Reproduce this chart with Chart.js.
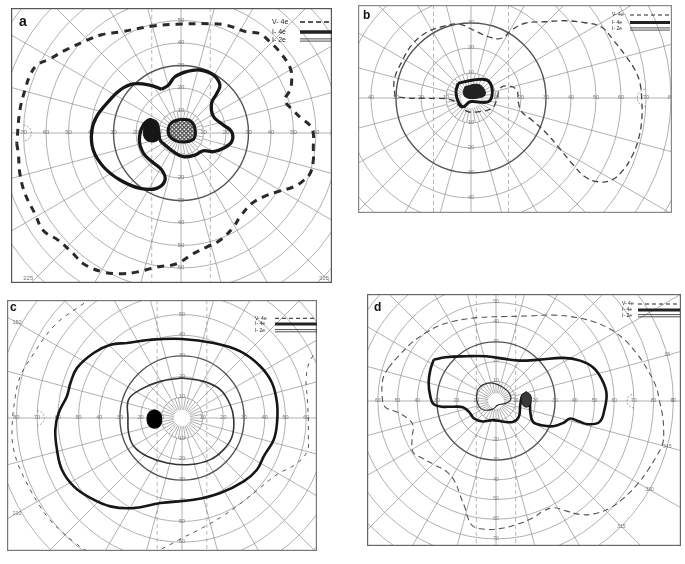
<!DOCTYPE html>
<html>
<head>
<meta charset="utf-8">
<script src="https://cdn.jsdelivr.net/npm/chart.js@4.4.0/dist/chart.umd.min.js"></script>
<style>
html, body { margin: 0; padding: 0; background: #fff; width: 685px; height: 564px; overflow: hidden; }
.panel { position: absolute; }
</style>
</head>
<body>
<div class="panel" id="boxA"><canvas id="chartA"></canvas></div>
<div class="panel" id="boxB"><canvas id="chartB"></canvas></div>
<div class="panel" id="boxC"><canvas id="chartC"></canvas></div>
<div class="panel" id="boxD"><canvas id="chartD"></canvas></div>
<script>
// Goldmann grid: rings and tick labels (degrees of eccentricity)
var ringDeg = [10, 20, 30, 40, 50, 60, 70, 80, 90];
var tickDeg = [10, 20, 30, 40, 50, 60, 70, 80, 90];
var legendLabels = ['V- 4e', 'I- 4e', 'I- 2e'];

// isopters as [x, y] in degrees (x right, y up)
// --- a ---
var aV4e = [[-73,-4.7],[-72.3,-9.2],[-71.6,-18.1],[-69.3,-27],[-64.9,-35.9],[-61.2,-43.3],[-54.5,-47.7],[-47.9,-53.6],[-43.4,-58.1],[-34.5,-61.8],[-25.6,-62.5],[-19.7,-61.8],[-10.8,-59.6],[-1.9,-58.1],[5.5,-53.6],[11.4,-50.7],[17.3,-47.7],[23.3,-41.8],[26.2,-37.3],[31.4,-31.4],[36.6,-28.4],[42.5,-26.2],[49.9,-24],[53.6,-21.8],[57.3,-18.1],[58.8,-12.1],[58.8,-6.2],[58.8,-0.3],[57.3,3.4],[53.6,6.4],[49.9,10.1],[46.2,14.5],[48.4,19],[49.2,23.4],[48.4,29.3],[43.3,36.7],[39.6,40.4],[35.1,44.1],[29.2,44.9],[20.3,47.9],[12.1,48.6],[-1.9,48.3],[-12.3,47.6],[-27.1,44.9],[-35.3,43.7],[-41.2,41.5],[-51.6,36.7],[-58.2,33],[-64.1,30.1],[-67.1,25.6],[-69.3,19.3],[-71.6,10.1]];
var aI4e = [[-8.6,19.4],[-5.6,21.3],[-2.7,25],[2.5,27.3],[8.4,28],[14.4,25.8],[17.3,21.3],[15.9,17.6],[13.6,13.2],[14.4,7.3],[18.8,3.6],[22.5,0.6],[22.5,-3.9],[18.8,-6.8],[14.4,-8.3],[9.9,-7.9],[6.2,-9.8],[1,-10.5],[-3.4,-8.3],[-7.1,-5.3],[-9.3,-3.1],[-10.1,1.3],[-13,5.8],[-16.7,3.6],[-18.5,-3.1],[-16.7,-9],[-13,-12.7],[-8.6,-16.4],[-7.1,-20.9],[-10.8,-24.6],[-18.2,-24.6],[-27.1,-20.9],[-34.5,-15],[-39,-7.6],[-39.7,0.6],[-37.5,7.3],[-31.6,14.7],[-27.1,19.1],[-21.2,21.8],[-13.8,21.3]];
var aI2e = [[-0.4,6.1],[4,5.5],[6.2,2.1],[5.8,-2.4],[2.5,-3.9],[-1.9,-3.6],[-5.2,-1.3],[-5.6,2.1],[-4.1,4.7]];
var aBlind = [[-13.5,6.3],[-10.5,5],[-9.6,1],[-10.2,-3],[-13,-4],[-16,-2.5],[-16.7,1.5],[-15.5,5]];
var aMeridians = [225, 315];
// --- b ---
var bV4e = [[-30.4,0.5],[-30.7,7.2],[-27.7,14.5],[-23.7,21.2],[-18.4,25.9],[-11.7,28.5],[-5.1,29.6],[0.9,27.2],[6.9,24.5],[12.3,23.9],[16.3,27.2],[21.6,29.9],[29.6,30.5],[37.6,30.9],[45.6,30.1],[52.3,28.3],[56.9,23.2],[61.6,17.2],[65.6,11.2],[67.6,5.9],[68.3,-0.8],[68.3,-8.8],[66.9,-16.8],[64.3,-23.5],[60.9,-28.8],[56.3,-32.8],[50.9,-33.5],[45.6,-31.5],[40.3,-26.1],[34.9,-19.5],[29.6,-13.5],[24.3,-8.8],[20.3,-5.5],[18.9,-1.5],[18.3,3.2],[14.9,4.8],[11.6,3.9],[10.3,-0.8],[8.3,-4.1],[2.9,-5.5],[-1.1,-5.5],[-4.4,-3.5],[-7.7,-0.8],[-17.1,-0.1],[-23.7,-0.1]];
var bI4e = [[-5.1,5.9],[0.9,7.2],[6.3,7.2],[8.3,4.5],[8.3,0.5],[6.9,-1.5],[3.6,-1.7],[-0.4,-1.5],[-3.1,-3.5],[-5.1,-1.5],[-6,2.5]];
var bI2e = [[-2.4,4.5],[2.3,5.5],[4.9,4.1],[5.6,1.2],[2.3,-0.1],[-1.7,0.1],[-3.1,1.9]];
var bMeridians = [];
// --- c ---
var cV4e = [[-40,60],[-50.7,53.1],[-62,44.3],[-72.5,29.8],[-78.1,20.1],[-80.5,10.5],[-82.1,-5.6],[-81.3,-15.3],[-78.1,-25],[-73.3,-34.6],[-69,-42],[-64,-49],[-58,-55],[-52,-60],[-46,-64],[-30,-68],[-12,-64],[0,-58],[10,-53],[21,-46.5],[30.6,-39.5],[37.8,-33.7],[46,-27.2],[54.8,-22.4],[60.5,-16],[61,-8],[61,0],[60.5,10],[60,19.5],[62,28],[70,40],[60,62],[35,70],[-10,68],[-28,63]];
var cI4e = [[-26.6,36.2],[-15.3,37.8],[0,38.2],[15.3,36.2],[28.2,32.2],[37.8,25],[43.5,16.9],[45.9,7.2],[45.9,-2.4],[44.3,-10.5],[39.5,-18.5],[36.2,-25],[29.8,-30.6],[18.5,-36.2],[5.6,-39.5],[-10.5,-41.1],[-23.3,-43.5],[-34.6,-42.7],[-44.3,-38.6],[-52.3,-33],[-58,-25],[-60.4,-15.3],[-61.2,-5.6],[-59.6,2.4],[-55.6,10.5],[-53.9,16.9],[-50.7,24.2],[-42.7,31.4],[-34.6,35.4]];
var cI2e = [[0,19.3],[10.5,17.7],[18.5,13.7],[23.3,6.4],[25,-0.8],[24.2,-8.9],[20.1,-15.3],[13.7,-20.1],[4,-22.5],[-7.2,-21.7],[-16.9,-18.5],[-23.3,-13.7],[-25.8,-7.2],[-26.1,0],[-25.8,8.9],[-20.1,13.7],[-10.5,17.7]];
var cBlind = [[-13.3,4],[-10.8,2.8],[-9.8,-0.4],[-10.6,-3.8],[-13.3,-4.9],[-15.9,-3.8],[-16.9,-0.4],[-15.9,2.8]];
var cMeridians = [150, 210];
// --- d ---
var dV4e = [[-54.7,16.8],[-49.6,22.7],[-42.7,29.6],[-35,35],[-29.1,38.1],[-20.5,40.7],[-8.5,42.4],[5.1,42.9],[17.1,43.2],[29.1,43.6],[41,42.4],[49.6,40.2],[58.1,36.4],[65,31.3],[71.8,23.6],[76.9,15.9],[81.2,7.4],[82.9,0.5],[84.6,-8],[85.1,-14.9],[84.6,-21.7],[81.2,-28.5],[76.9,-35.4],[71.8,-42.2],[65,-49.1],[58.1,-54.2],[49.6,-57.3],[42.7,-57.6],[35.9,-55.9],[29.1,-54.2],[23.9,-55.9],[18.8,-59.3],[10.3,-62.7],[1.7,-64.8],[-6.8,-65],[-11.7,-63.5],[-14.2,-59.4],[-15.7,-54.3],[-18.3,-47.7],[-20.8,-41.1],[-24.9,-36],[-31,-32.5],[-37.6,-28.9],[-42.1,-25.9],[-42.6,-18.8],[-42.1,-12.2],[-45.2,-8.6],[-50.3,-5.6],[-56.3,-3],[-57.8,3],[-57.3,11.6]];
var dI4e = [[-31.6,21],[-25.6,22.2],[-15.4,22.7],[-5.1,22.7],[3.4,21.5],[12,20.5],[22.2,21],[34.2,21.9],[42.7,20.5],[49.6,16.8],[53.8,10.8],[56.1,3.9],[55,-4.6],[52.6,-10.6],[47,-11.8],[41.9,-10.3],[37.6,-8.9],[34.2,-11.1],[29.1,-12.8],[23.1,-12.3],[18.8,-10.6],[17.4,-5.5],[17.1,0.5],[15.4,3.6],[13.3,2.6],[12.3,-2.1],[11.6,-8],[8.5,-10.6],[3.4,-10.4],[-1.7,-9.7],[-6.8,-10.4],[-11.1,-8.9],[-13.7,-5.5],[-16.8,-3.2],[-22.2,-2.9],[-27.4,-2.9],[-31.6,-1.7],[-33.3,2.2],[-34.2,9.1],[-33.3,15.9]];
var dI2e = [[-9.4,5.6],[-6.8,8.2],[-1.7,9.1],[3.4,7],[6.8,3.9],[7.4,0.5],[4.8,-1.2],[0.9,-2.1],[-1.7,-4.1],[-6,-4.6],[-8.5,-2.9],[-9.9,1.4]];
var dBlind = [[15.4,4.8],[17.5,3],[17.9,0],[16.8,-2.6],[14.5,-2.9],[12.9,-0.5],[13,2.8]];
var dMeridians = [15, 0, 345, 330, 315];

function loop(arr) {
    var pts = arr.map(function (p) { return {x: p[0], y: p[1]}; });
    pts.push({x: arr[0][0], y: arr[0][1]});
    return pts;
}
function isopter(arr, style) {
    return Object.assign({data: loop(arr), showLine: true, pointRadius: 0, tension: 0.4, fill: false}, style);
}
function hatchPattern() {
    var c = document.createElement('canvas');
    c.width = 4; c.height = 4;
    var g = c.getContext('2d');
    g.fillStyle = '#5a5a5a'; g.fillRect(0, 0, 4, 4);
    g.fillStyle = '#f2f2f2';
    g.fillRect(0.5, 0.5, 1.6, 1.6); g.fillRect(2.5, 2.5, 1.4, 1.4);
    return g.createPattern(c, 'repeat');
}

// grid, labels, legend and frame
var perimetryGrid = {
    id: 'perimetryGrid',
    beforeDatasetsDraw: function (chart, args, o) {
        var ctx = chart.ctx, a = chart.chartArea, xs = chart.scales.x, ys = chart.scales.y;
        var cx = xs.getPixelForValue(0), cy = ys.getPixelForValue(0);
        var kx = (xs.getPixelForValue(10) - cx) / 10, ky = (cy - ys.getPixelForValue(10)) / 10;
        ctx.save();
        ctx.beginPath(); ctx.rect(a.left, a.top, a.right - a.left, a.bottom - a.top); ctx.clip();

        // dashed vertical guides
        ctx.setLineDash([4, 3]); ctx.strokeStyle = '#9a9a9a'; ctx.lineWidth = 0.7;
        [-o.dashX, o.dashX].forEach(function (d) {
            ctx.beginPath(); ctx.moveTo(cx + d * kx, a.top); ctx.lineTo(cx + d * kx, a.bottom); ctx.stroke();
        });
        ctx.setLineDash([]);

        // meridians every 15 deg, dense ticks in the centre
        ctx.strokeStyle = '#8f8f8f'; ctx.lineWidth = 0.7;
        ctx.beginPath();
        var m, t;
        for (m = 0; m < 360; m += 15) {
            t = m * Math.PI / 180;
            ctx.moveTo(cx + 10 * kx * Math.cos(t), cy - 10 * ky * Math.sin(t));
            ctx.lineTo(cx + 110 * kx * Math.cos(t), cy - 110 * ky * Math.sin(t));
        }
        for (m = 0; m < 360; m += 10) {
            t = m * Math.PI / 180;
            ctx.moveTo(cx + 4 * kx * Math.cos(t), cy - 4 * ky * Math.sin(t));
            ctx.lineTo(cx + 10 * kx * Math.cos(t), cy - 10 * ky * Math.sin(t));
        }
        ctx.stroke();

        // rings, 30 deg heavier
        ringDeg.forEach(function (r) {
            ctx.beginPath();
            ctx.ellipse(cx, cy, r * kx, r * ky, 0, 0, Math.PI * 2);
            ctx.lineWidth = r === 30 ? 1.4 : 0.7;
            ctx.strokeStyle = r === 30 ? '#555' : '#8f8f8f';
            ctx.stroke();
        });

        // small half-circle markers on the horizontal meridian
        ctx.setLineDash([2, 1.5]); ctx.lineWidth = 0.7; ctx.strokeStyle = '#777';
        ctx.beginPath(); ctx.ellipse(cx + 70 * kx, cy, 3.5 * kx, 3.5 * ky, 0, Math.PI / 2, Math.PI * 1.5); ctx.stroke();
        ctx.beginPath(); ctx.ellipse(cx - 70 * kx, cy, 3.5 * kx, 3.5 * ky, 0, -Math.PI / 2, Math.PI / 2); ctx.stroke();
        ctx.setLineDash([]);

        // tick labels
        ctx.font = o.tickFont + 'px "Liberation Sans", Arial, sans-serif';
        ctx.fillStyle = '#777'; ctx.textAlign = 'center'; ctx.textBaseline = 'middle';
        tickDeg.forEach(function (v) {
            [[v, 0], [-v, 0], [0, v], [0, -v]].forEach(function (p) {
                ctx.fillText(String(v), cx + p[0] * kx, cy - p[1] * ky - 0.5);
            });
        });

        // meridian labels near the edge
        o.meridians.forEach(function (deg) {
            t = deg * Math.PI / 180;
            var px = cx + o.merR * kx * Math.cos(t), py = cy - o.merR * ky * Math.sin(t);
            px = Math.min(Math.max(px, a.left + 8), a.right - 8);
            py = Math.min(Math.max(py, a.top + 4), a.bottom - 5);
            ctx.fillText(String(deg), px, py);
        });
        ctx.restore();
    },
    afterDatasetsDraw: function (chart, args, o) {
        var ctx = chart.ctx, a = chart.chartArea;
        ctx.save();
        // frame
        ctx.strokeStyle = o.frameColor; ctx.lineWidth = 1.2;
        ctx.strokeRect(a.left + 0.6, a.top + 0.6, a.right - a.left - 1.2, a.bottom - a.top - 1.2);
        // panel letter
        ctx.fillStyle = '#111';
        ctx.font = 'bold ' + o.letterFont + 'px "Liberation Sans", Arial, sans-serif';
        ctx.textAlign = 'left'; ctx.textBaseline = 'alphabetic';
        ctx.fillText(o.letter, a.left + o.letterPos[0], a.top + o.letterPos[1]);
        // legend
        var L = o.legend;
        ctx.font = L.font + 'px "Liberation Sans", Arial, sans-serif';
        ctx.textBaseline = 'middle';
        legendLabels.forEach(function (txt, i) {
            var y = a.top + L.y[i];
            ctx.fillStyle = '#222';
            ctx.fillText(txt, a.left + L.tx, y);
            ctx.strokeStyle = '#222';
            ctx.beginPath();
            if (i === 0) {
                ctx.setLineDash(L.dash); ctx.lineWidth = L.dashW;
                ctx.moveTo(a.left + L.x1, y); ctx.lineTo(a.left + L.x2, y); ctx.stroke();
                ctx.setLineDash([]);
            } else if (i === 1) {
                ctx.lineWidth = L.thickW;
                ctx.moveTo(a.left + L.x1, y); ctx.lineTo(a.left + L.x2, y); ctx.stroke();
            } else {
                ctx.lineWidth = 0.8;
                ctx.moveTo(a.left + L.x1, y - 1.1); ctx.lineTo(a.left + L.x2, y - 1.1);
                ctx.moveTo(a.left + L.x1, y + 1.1); ctx.lineTo(a.left + L.x2, y + 1.1);
                ctx.stroke();
            }
        });
        ctx.restore();
    }
};

function makeChart(p) {
    var box = document.getElementById(p.box);
    var L = p.frame[0], T = p.frame[1], W = p.frame[2], H = p.frame[3];
    box.style.left = L + 'px'; box.style.top = T + 'px';
    box.style.width = W + 'px'; box.style.height = H + 'px';
    new Chart(document.getElementById(p.canvas), {
        type: 'scatter',
        data: {datasets: p.datasets},
        options: {
            responsive: true,
            maintainAspectRatio: false,
            animation: false,
            events: [],
            layout: {padding: 0},
            elements: {point: {radius: 0}, line: {capBezierPoints: false}},
            scales: {
                x: {type: 'linear', display: false, min: (L - p.center[0]) / p.ppd, max: (L + W - p.center[0]) / p.ppd},
                y: {type: 'linear', display: false, min: (p.center[1] - T - H) / p.ppd, max: (p.center[1] - T) / p.ppd}
            },
            plugins: {legend: {display: false}, tooltip: {enabled: false}, perimetryGrid: p.grid}
        },
        plugins: [perimetryGrid]
    });
}

var ink = '#161616';

// a
makeChart({
    box: 'boxA', canvas: 'chartA', frame: [11, 8, 321, 275], center: [181, 133], ppd: 2.25,
    datasets: [
        isopter(aBlind, {borderColor: ink, borderWidth: 1, backgroundColor: ink, fill: 'shape'}),
        isopter(aI2e, {borderColor: ink, borderWidth: 3, backgroundColor: hatchPattern(), fill: 'shape'}),
        isopter(aI4e, {borderColor: ink, borderWidth: 3.3}),
        isopter(aV4e, {borderColor: '#2a2a2a', borderWidth: 3, borderDash: [7, 6]})
    ],
    grid: {dashX: 13, tickFont: 6, meridians: aMeridians, merR: 96, frameColor: '#555',
        letter: 'a', letterFont: 14, letterPos: [8, 18],
        legend: {font: 7, tx: 261, x1: 289, x2: 321, y: [14, 24, 32], dash: [5, 3], dashW: 1.5, thickW: 3.5}}
});

// b
makeChart({
    box: 'boxB', canvas: 'chartB', frame: [358, 5, 314, 208], center: [471, 98], ppd: 2.5,
    datasets: [
        isopter(bI2e, {borderColor: ink, borderWidth: 1, backgroundColor: '#222', fill: 'shape'}),
        isopter(bI4e, {borderColor: ink, borderWidth: 3}),
        isopter(bV4e, {borderColor: '#444', borderWidth: 1.3, borderDash: [6, 4]})
    ],
    grid: {dashX: 15, tickFont: 5.5, meridians: bMeridians, merR: 92, frameColor: '#888',
        letter: 'b', letterFont: 12, letterPos: [5, 14],
        legend: {font: 5, tx: 254, x1: 272, x2: 312, y: [10, 17.5, 24], dash: [4, 3], dashW: 1, thickW: 3}}
});

// c
makeChart({
    box: 'boxC', canvas: 'chartC', frame: [7, 300, 310, 251], center: [182, 418], ppd: 2.07,
    datasets: [
        isopter(cBlind, {borderColor: '#000', borderWidth: 1, backgroundColor: '#000', fill: 'shape'}),
        isopter(cI4e, {borderColor: ink, borderWidth: 2.6}),
        isopter(cI2e, {borderColor: '#333', borderWidth: 1.6}),
        isopter(cV4e, {borderColor: '#555', borderWidth: 1, borderDash: [4, 5]})
    ],
    grid: {dashX: 12, tickFont: 5.5, meridians: cMeridians, merR: 92, frameColor: '#777',
        letter: 'c', letterFont: 12, letterPos: [3, 11],
        legend: {font: 5, tx: 248, x1: 268, x2: 310, y: [18.3, 24, 30.7], dash: [4, 3], dashW: 1, thickW: 3}}
});

// d
makeChart({
    box: 'boxD', canvas: 'chartD', frame: [367, 294, 314, 252], center: [496, 401], ppd: 1.97,
    datasets: [
        isopter(dBlind, {borderColor: ink, borderWidth: 1, backgroundColor: '#3a3a3a', fill: 'shape'}),
        isopter(dI4e, {borderColor: ink, borderWidth: 2.6}),
        isopter(dI2e, {borderColor: '#333', borderWidth: 1.2}),
        isopter(dV4e, {borderColor: '#555', borderWidth: 1.1, borderDash: [6, 4]})
    ],
    grid: {dashX: 10, tickFont: 5, meridians: dMeridians, merR: 90, frameColor: '#666',
        letter: 'd', letterFont: 12, letterPos: [7, 17],
        legend: {font: 5, tx: 255, x1: 271, x2: 313, y: [10, 16, 21.7], dash: [4, 3], dashW: 1, thickW: 3}}
});
</script>
</body>
</html>
